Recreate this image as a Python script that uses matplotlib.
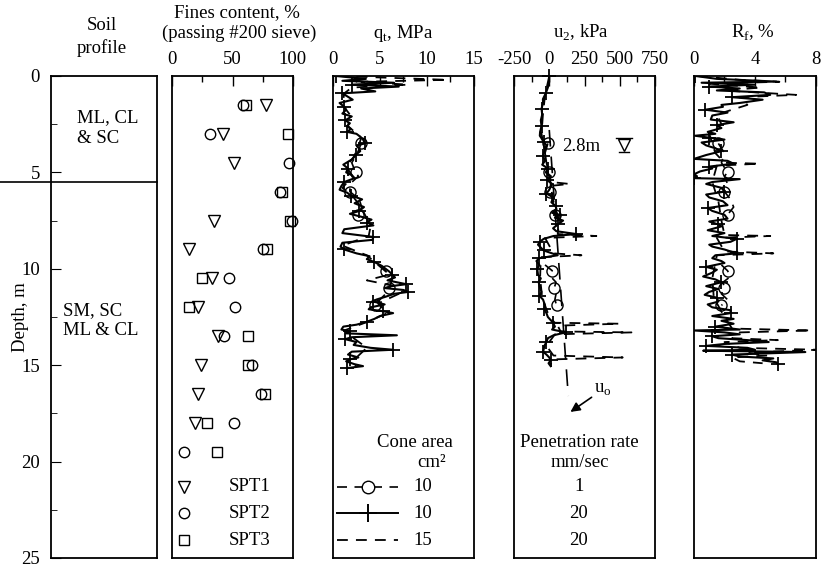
import matplotlib
matplotlib.use("Agg")
import numpy as np
import matplotlib.pyplot as plt

plt.rcParams['font.family'] = 'Liberation Serif'
plt.rcParams['mathtext.fontset'] = 'custom'
plt.rcParams['mathtext.rm'] = 'Liberation Serif'
plt.rcParams['axes.unicode_minus'] = False
plt.rcParams['font.size'] = 13.5

# ---- fines content from SPT samples ----
spt1_depth = [1.5, 3.0, 4.5, 7.5, 9.0, 10.5, 12.0, 13.5, 15.0, 16.5, 18.0]
spt1_fines = [78, 42, 51, 35, 14, 33, 21, 38, 24, 21, 19]
spt2_depth = [1.5, 3.0, 4.5, 6.0, 7.5, 9.0, 10.5, 12.0, 13.5, 15.0, 16.5, 18.0, 19.5]
spt2_fines = [59, 31, 97, 89, 99, 75, 47, 52, 43, 66, 74, 51, 10]
spt3_depth = [1.5, 3.0, 6.0, 7.5, 9.0, 10.5, 12.0, 13.5, 15.0, 16.5, 18.0, 19.5]
spt3_fines = [61, 96, 91, 98, 79, 25, 14, 63, 63, 77, 29, 37]

# ---- CPTu, 10 cm2, 20 mm/s (solid, +) ----
qt_depth = [0.0, 0.15, 0.25, 0.35, 0.45, 0.55, 0.65, 0.8, 0.9, 1.05, 1.23, 1.4, 1.6, 1.75,
            1.95, 2.1, 2.3, 2.45, 2.6, 2.75, 2.9, 3.0, 3.15, 3.3, 3.5, 3.6, 3.75, 3.9, 4.1,
            4.3, 4.45, 4.6, 4.8, 5.0, 5.15, 5.3, 5.5, 5.7, 5.9, 6.05, 6.2, 6.4, 6.6, 6.8,
            7.0, 7.15, 7.3, 7.45, 7.6, 7.75, 7.95, 8.15, 8.35, 8.5, 8.65, 8.85, 9.0, 9.2,
            9.35, 9.5, 9.65, 9.85, 10.0, 10.15, 10.3, 10.45, 10.6, 10.7, 10.8, 10.9, 11.0,
            11.1, 11.2, 11.3, 11.45, 11.6, 11.7, 11.85, 12.0, 12.1, 12.2, 12.3, 12.45, 12.6,
            12.75, 12.9, 13.0, 13.15, 13.25, 13.35, 13.45, 13.55, 13.65, 13.8, 13.95, 14.1,
            14.2, 14.3, 14.45, 14.6, 14.7, 14.8, 14.95, 15.05, 15.15]
qt_solid = [0.3, 3.5, 1.0, 6.5, 2.0, 7.0, 3.0, 4.5, 1.0, 1.5, 2.1, 0.7, 1.2, 1.4,
            1.0, 2.0, 1.3, 1.8, 1.5, 1.9, 1.5, 2.5, 2.9, 3.2, 3.4, 2.5, 2.8, 2.9, 2.4,
            2.1, 1.6, 1.1, 1.6, 1.4, 2.0, 2.3, 1.2, 0.9, 0.7, 1.5, 1.9, 3.1, 2.3, 3.3,
            2.8, 1.8, 3.0, 4.1, 3.6, 4.3, 1.2, 1.0, 4.3, 4.2, 1.0, 0.8, 1.2, 2.5,
            3.9, 3.6, 4.4, 5.2, 5.6, 6.0, 6.3, 6.6, 5.8, 6.8, 7.8, 6.2, 5.5,
            7.5, 8.0, 6.5, 5.6, 4.6, 4.3, 5.5, 4.0, 3.8, 5.3, 6.4, 5.0, 4.4,
            3.6, 2.5, 1.1, 0.9, 1.8, 1.4, 6.8, 2.0, 1.3, 2.5, 2.2, 4.0,
            6.4, 2.0, 1.6, 2.7, 1.8, 1.4, 2.3, 3.2, 1.5]

u2_depth = [0.0, 0.3, 0.6, 0.9, 1.2, 1.4, 1.7, 2.0, 2.3, 2.6, 2.9, 3.1, 3.4, 3.6, 3.9,
            4.15, 4.4, 4.6, 4.8, 5.0, 5.2, 5.4, 5.6, 5.9, 6.1, 6.3, 6.55, 6.75, 6.9, 7.1,
            7.2, 7.35, 7.5, 7.7, 7.9, 8.05, 8.2, 8.3, 8.45, 8.6, 8.75, 8.9, 9.05, 9.2,
            9.3, 9.45, 9.6, 9.8, 10.0, 10.3, 10.5, 10.7, 10.95, 11.2, 11.4, 11.6, 11.9,
            12.1, 12.3, 12.5, 12.8, 13.0, 13.15, 13.3, 13.45, 13.6, 13.8, 14.0, 14.2,
            14.3, 14.45, 14.6, 14.75, 14.9, 15.05]
u2_solid = [0, 0, -10, -25, -45, -44, -55, -50, -60, -55, -65, -67, -40, -20, -35,
            -44, -30, -50, -10, -25, 12, -15, 20, 0, -20, 30, 15, 45, 51, 20,
            74, 40, 98, 60, 27, 50, 193, 30, -40, -67, -80, -60, -40, 20,
            60, -70, -91, -70, -85, -80, -60, -75, -67, -55, -70, -44, -30,
            -35, -20, -10, 27, 40, 20, 117, 30, -10, -20, -35, -40,
            -44, -20, 0, 10, -5, 10]

rf_depth = [0.0, 0.15, 0.29, 0.35, 0.45, 0.55, 0.65, 0.75, 0.85, 0.98, 1.1, 1.23, 1.4,
            1.5, 1.6, 1.75, 1.9, 2.05, 2.26, 2.4, 2.55, 2.7, 2.9, 3.0, 3.1, 3.2, 3.3,
            3.45, 3.6, 3.75, 3.9, 4.1, 4.3, 4.4, 4.55, 4.7, 4.8, 4.95, 5.1, 5.2, 5.3,
            5.35, 5.5, 5.6, 5.8, 6.0, 6.15, 6.3, 6.5, 6.7, 6.85, 7.0, 7.2, 7.4, 7.55,
            7.7, 7.8, 8.0, 8.15, 8.3, 8.45, 8.6, 8.75, 8.85, 9.0, 9.2, 9.3, 9.45, 9.6,
            9.7, 9.9, 10.05, 10.2, 10.4, 10.55, 10.7, 10.9, 11.05, 11.2, 11.35, 11.5,
            11.7, 11.85, 12.0, 12.15, 12.3, 12.45, 12.6, 12.7, 12.85, 13.0, 13.15, 13.2,
            13.3, 13.4, 13.5, 13.6, 13.7, 13.8, 13.9, 14.0, 14.1, 14.2, 14.25, 14.32,
            14.45, 14.55, 14.65, 14.75, 14.85, 14.95]
rf_solid = [0.1, 1.5, 5.4, 0.5, 4.0, 1.0, 3.0, 1.5, 4.6, 5.0, 2.5, 4.5, 3.0,
            1.8, 1.9, 0.75, 2.2, 1.2, 1.1, 2.6, 1.5, 1.8, 0.9, 1.4, 0.07, 1.0, 2.0,
            0.5, 0.8, 1.4, 1.8, 0.8, 0.0, 2.2, 2.6, 1.0, 1.2, 0.4, 0.0, 0.2, 0.0,
            3.0, 1.2, 0.8, 1.8, 2.0, 0.8, 1.0, 1.9, 2.2, 0.9, 1.2, 2.0, 2.2, 1.0,
            1.6, 1.8, 0.9, 2.0, 1.2, 2.8, 2.4, 1.0, 1.2, 2.0, 2.8, 1.4, 1.2, 1.8,
            2.0, 0.8, 1.5, 1.2, 0.6, 1.4, 1.8, 0.8, 1.6, 1.0, 0.7, 1.5,
            1.6, 0.9, 1.2, 2.4, 2.4, 1.2, 2.6, 1.8, 2.6, 1.4, 3.0, 0.0,
            2.0, 3.0, 1.2, 1.6, 3.5, 4.9, 2.0, 0.8, 3.5, 4.0, 0.6, 7.3,
            2.5, 3.0, 5.2, 4.5, 5.4, 5.5]

# ---- CPTu, 15 cm2, 20 mm/s (dashed) ----
qt15_depth = [0.0, 0.2, 0.3, 0.45, 0.6, 0.9, 1.5, 2.0, 2.6, 3.2, 3.7, 4.2, 4.7, 5.2, 5.8,
              6.3, 6.8, 7.3, 7.8, 8.3, 8.8, 9.3, 9.8, 10.3, 10.6, 10.9, 11.3, 11.8, 12.3,
              12.8, 13.2, 13.6, 14.1, 14.6, 15.1]
qt15 = [0.5, 12.2, 3.0, 8.0, 2.0, 1.2, 1.0, 1.8, 1.6, 3.0, 2.7, 2.2, 1.4, 2.1, 1.0,
        2.2, 3.0, 3.5, 4.0, 3.8, 1.0, 3.6, 4.8, 6.0, 3.6, 6.6, 7.0, 4.8, 5.8,
        3.4, 1.2, 2.2, 3.6, 2.5, 2.4]

u215_depth = [0.0, 1.0, 2.0, 3.0, 4.0, 5.0, 5.5, 5.6, 5.7, 6.5, 7.5, 8.2, 8.3, 8.4, 9.2,
              9.3, 9.4, 10.5, 11.5, 12.5, 12.8, 12.85, 12.95, 13.25, 13.3, 13.4, 14.0,
              14.5, 14.6, 14.7, 15.0]
u215 = [0, -30, -45, -55, -30, -10, 10, 144, 10, 30, 70, 60, 334, -30, 30,
        228, -60, -65, -50, 0, 40, 500, 60, 80, 583, 40, -20,
        30, 521, 20, 10]

rf15_depth = [0.0, 0.2, 0.3, 0.4, 0.6, 0.75, 0.98, 1.1, 1.5, 2.0, 2.5, 3.0, 3.5, 4.0, 4.5,
              4.55, 4.65, 5.5, 6.5, 7.5, 8.25, 8.3, 8.4, 9.1, 9.2, 9.3, 10.5, 11.5, 12.5,
              13.1, 13.2, 13.3, 13.6, 13.7, 13.8, 14.1, 14.2, 14.35, 14.5, 14.6, 14.8, 14.9]
rf15 = [0.2, 3.0, 5.6, 1.0, 4.4, 2.0, 6.7, 3.0, 3.5, 1.5, 1.8, 1.0, 1.2, 1.4, 2.0,
        4.3, 1.5, 1.2, 1.6, 1.8, 2.0, 5.0, 1.5, 2.0, 5.2, 1.5, 1.2, 1.3, 2.0,
        2.5, 7.7, 3.0, 2.5, 5.5, 2.0, 3.0, 8.1, 3.5, 4.8, 2.5, 3.0, 4.5]

# ---- CPTu, 10 cm2, 1 mm/s (dashed, o), two tested intervals ----
slow_depth = [3.5, 4.0, 4.5, 5.0, 5.2, 5.6, 6.0, 6.4, 6.8, 7.2, np.nan,
              9.8, 10.1, 10.4, 10.7, 11.0, 11.3, 11.6, 11.9]
qt_slow = [3.0, 2.6, 2.0, 2.4, 2.7, 1.8, 1.8, 2.8, 3.05, 2.7, np.nan,
           5.0, 5.6, 5.9, 6.2, 6.0, 5.6, 5.0, 4.5]
u2_slow = [-10, -30, -20, -5, 5, 10, 5, 20, 35, 40, np.nan,
           -30, 21, 10, 48, 35, 48, 40, 52]
rf_slow = [1.6, 2.0, 1.8, 2.2, 2.0, 2.2, 2.0, 2.4, 2.6, 2.2, np.nan,
           1.8, 2.2, 2.4, 1.9, 2.0, 1.8, 2.2, 1.8]

# hydrostatic pore pressure line (GWT 2.8 m)
uo_depth = [2.8, 16.6]
uo_kpa = [0, 135]

dash = (6, 4.5)


def style_axis(ax, xlim, major, minor):
    ax.set_xlim(*xlim)
    ax.set_ylim(25, 0)
    ax.set_xticks(major)
    ax.set_xticks(minor, minor=True)
    ax.tick_params(which='both', direction='in', top=True, bottom=False,
                   labeltop=True, labelbottom=False, left=False, labelleft=False, pad=6)
    ax.tick_params(which='major', length=7, width=1)
    ax.tick_params(which='minor', length=4, width=1)
    ax.set_yticks([])
    for s in ax.spines.values():
        s.set_linewidth(1.3)


fig = plt.figure(figsize=(8.24, 5.7), dpi=100)
bot, hgt = 0.0211, 0.8456
ax0 = fig.add_axes([0.0619, bot, 0.1283, hgt])
ax1 = fig.add_axes([0.2091, bot, 0.1462, hgt])
ax2 = fig.add_axes([0.4041, bot, 0.1711, hgt])
ax3 = fig.add_axes([0.6238, bot, 0.1711, hgt])
ax4 = fig.add_axes([0.8422, bot, 0.1481, hgt])

# soil profile
ax0.set_xlim(0, 1)
ax0.set_ylim(25, 0)
ax0.set_xticks([])
ax0.set_yticks([0, 5, 10, 15, 20, 25])
ax0.set_yticks(np.arange(2.5, 25, 5), minor=True)
ax0.tick_params(which='both', direction='in', left=True, right=False, pad=8)
ax0.tick_params(which='major', length=7)
ax0.tick_params(which='minor', length=4)
for s in ax0.spines.values():
    s.set_linewidth(1.3)
ax0.axhline(5.5, xmin=-0.49, xmax=1, color='black', lw=1.2, clip_on=False)
ax0.text(0.25, 2.7, 'ML, CL\n& SC', ha='left', va='center', linespacing=1.25)
ax0.text(0.11, 12.7, 'SM, SC\nML & CL', ha='left', va='center', linespacing=1.25)
ax0.set_ylabel('Depth, m')
ax0.yaxis.set_label_coords(-0.21, 0.5)

# fines content
style_axis(ax1, (0, 100), [0, 50, 100], [25, 75])
ax1.plot(spt1_fines, spt1_depth, 'v', mfc='none', mec='black', ms=8.5, mew=1, clip_on=False)
ax1.plot(spt2_fines, spt2_depth, 'o', mfc='none', mec='black', ms=7.5, mew=1, clip_on=False)
ax1.plot(spt3_fines, spt3_depth, 's', mfc='none', mec='black', ms=7, mew=1, clip_on=False)
for yy, mk, ms, lab in [(0.148, 'v', 8.5, 'SPT1'), (0.093, 'o', 7.5, 'SPT2'), (0.037, 's', 7, 'SPT3')]:
    ax1.plot([0.1], [yy], mk, mfc='none', mec='black', ms=ms, mew=1, transform=ax1.transAxes)
    ax1.text(0.47, yy, lab, transform=ax1.transAxes, va='center', ha='left')

# qt
style_axis(ax2, (0, 15), [0, 5, 10, 15], [2.5, 7.5, 12.5])
ax2.plot(qt15, qt15_depth, color='black', lw=1.3, dashes=dash)
ax2.plot(qt_slow, slow_depth, color='black', lw=1.2, dashes=dash, marker='o', mfc='none', ms=8, markevery=3)
ax2.plot(qt_solid, qt_depth, color='black', lw=1.5, marker='+', ms=10, mew=1.3, markevery=4)

# u2
style_axis(ax3, (-250, 750), [-250, 0, 250, 500, 750], [-125, 125, 375, 625])
ax3.plot(uo_kpa, uo_depth, color='black', lw=1.2, dashes=(10, 6))
ax3.plot(u215, u215_depth, color='black', lw=1.3, dashes=dash)
ax3.plot(u2_slow, slow_depth, color='black', lw=1.2, dashes=dash, marker='o', mfc='none', ms=8, markevery=3)
ax3.plot(u2_solid, u2_depth, color='black', lw=1.5, marker='+', ms=10, mew=1.3, markevery=3, clip_on=False)

# Rf
style_axis(ax4, (0, 8), [0, 4, 8], [2, 6])
ax4.plot(rf15, rf15_depth, color='black', lw=1.3, dashes=dash)
ax4.plot(rf_slow, slow_depth, color='black', lw=1.2, dashes=dash, marker='o', mfc='none', ms=8, markevery=3)
ax4.plot(rf_solid, rf_depth, color='black', lw=1.5, marker='+', ms=10, mew=1.3, markevery=5)

# headers
fig.text(0.124, 0.955, 'Soil', ha='center', va='center')
fig.text(0.124, 0.916, 'profile', ha='center', va='center')
fig.text(0.288, 0.978, 'Fines content, %', ha='center', va='center')
fig.text(0.290, 0.942, '(passing #200 sieve)', ha='center', va='center')
fig.text(0.489, 0.942, r'q$_\mathregular{t}$, MPa', ha='center', va='center')
fig.text(0.705, 0.942, r'u$_\mathregular{2}$, kPa', ha='center', va='center')
fig.text(0.914, 0.942, r'R$_\mathregular{f}$, %', ha='center', va='center')

# legend for cone area / penetration rate
rows = [0.148, 0.093, 0.037]
ax2.text(0.58, 0.24, 'Cone area', transform=ax2.transAxes, ha='center', va='center')
ax2.text(0.60, 0.198, 'cm\u00b2', transform=ax2.transAxes, ha='left', va='center')
ax2.plot([0.03, 0.46], [rows[0]] * 2, color='black', lw=1.2, dashes=dash, transform=ax2.transAxes)
ax2.plot([0.245], [rows[0]], 'o', mfc='white', mec='black', ms=9, transform=ax2.transAxes)
ax2.plot([0.03, 0.46], [rows[1]] * 2, color='black', lw=1.4, transform=ax2.transAxes)
ax2.plot([0.245], [rows[1]], '+', color='black', ms=13, mew=1.4, transform=ax2.transAxes)
ax2.plot([0.03, 0.46], [rows[2]] * 2, color='black', lw=1.3, dashes=dash, transform=ax2.transAxes)
for yy, lab in zip(rows, ['10', '10', '15']):
    ax2.text(0.57, yy, lab, transform=ax2.transAxes, ha='left', va='center')

ax3.text(0.46, 0.24, 'Penetration rate', transform=ax3.transAxes, ha='center', va='center')
ax3.text(0.47, 0.198, 'mm/sec', transform=ax3.transAxes, ha='center', va='center')
for yy, lab in zip(rows, ['1', '20', '20']):
    ax3.text(0.46, yy, lab, transform=ax3.transAxes, ha='center', va='center')

# water table and u_o annotation
ax3.text(0.34, 0.853, '2.8m', transform=ax3.transAxes, ha='left', va='center')
ax3.plot([0.72, 0.84], [0.871, 0.871], color='black', lw=1, transform=ax3.transAxes)
ax3.plot([0.78], [0.857], 'v', mfc='white', mec='black', ms=8, mew=1, transform=ax3.transAxes)
ax3.plot([0.745, 0.815], [0.843, 0.843], color='black', lw=1, transform=ax3.transAxes)
ax3.annotate(r'u$_\mathregular{o}$', xy=(0.40, 0.303), xytext=(0.57, 0.35),
             xycoords='axes fraction', textcoords='axes fraction', ha='left', va='center',
             arrowprops=dict(arrowstyle='-|>', color='black', lw=1.2, shrinkA=0, shrinkB=0,
                             mutation_scale=14))

fig.savefig('out.png', dpi=100)
